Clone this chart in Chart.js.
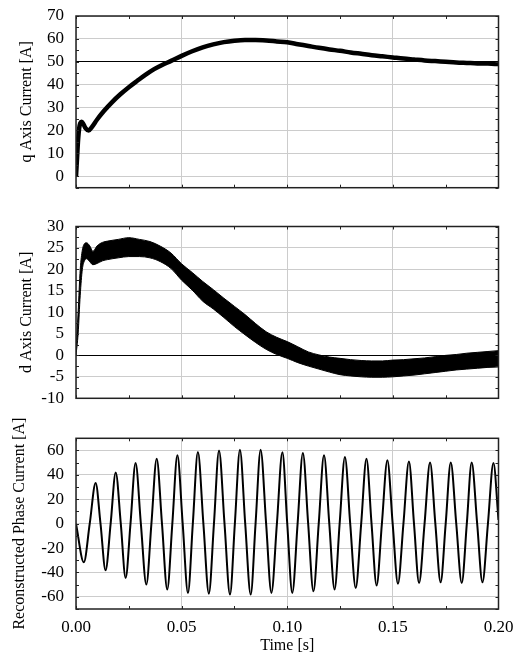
<!DOCTYPE html>
<html>
<head>
<meta charset="utf-8">
<script src="https://cdn.jsdelivr.net/npm/chart.js@4.4.1/dist/chart.umd.min.js"></script>
<style>
  body { margin: 0; background: #fff; }
  #wrap { position: relative; width: 522px; height: 655px; }
  canvas { position: absolute; left: 0; }
</style>
</head>
<body>
<div id="wrap">
  <canvas id="qChart" width="522" height="200" style="top:0px"></canvas>
  <canvas id="dChart" width="522" height="210" style="top:200px"></canvas>
  <canvas id="phaseChart" width="522" height="245" style="top:410px"></canvas>
</div>
<script>
// ---- data ----
const time_ticks = [0, 0.05, 0.10, 0.15, 0.20];

// q axis current [A]
const q_ticks = [0, 10, 20, 30, 40, 50, 60, 70];
const q_time = [0, 0.0005, 0.001, 0.0015, 0.002, 0.0027, 0.0035, 0.0045, 0.006, 0.0075, 0.01, 0.0132,
  0.017, 0.021, 0.025, 0.029, 0.033, 0.037, 0.041, 0.045, 0.05, 0.055, 0.06, 0.065, 0.07, 0.075,
  0.08, 0.085, 0.09, 0.095, 0.1, 0.105, 0.11, 0.115, 0.12, 0.125, 0.13, 0.135, 0.14, 0.145, 0.15,
  0.155, 0.16, 0.165, 0.17, 0.175, 0.18, 0.185, 0.19, 0.195, 0.2];
const q_current = [0, 8, 16, 21, 23.2, 23.8, 22.8, 21, 20, 21.5, 24.8, 28.5,
  32.3, 35.8, 38.9, 41.7, 44.4, 46.8, 48.7, 50.4, 52.6, 54.6, 56.3, 57.6, 58.6, 59.2,
  59.5, 59.5, 59.3, 58.9, 58.5, 57.7, 56.9, 56.1, 55.4, 54.8, 54.1, 53.5, 52.9, 52.4, 51.9,
  51.4, 51.0, 50.6, 50.3, 50.0, 49.7, 49.5, 49.3, 49.2, 49.0];

// d axis current [A], ripple band (upper / lower edge)
const d_ticks = [-10, -5, 0, 5, 10, 15, 20, 25, 30];
const d_time = [0, 0.001, 0.002, 0.003, 0.004, 0.005, 0.0065, 0.008, 0.01, 0.0125, 0.015, 0.02, 0.025,
  0.03, 0.035, 0.04, 0.045, 0.05, 0.055, 0.06, 0.065, 0.07, 0.075, 0.08, 0.085, 0.09, 0.095, 0.1,
  0.105, 0.11, 0.115, 0.12, 0.125, 0.13, 0.135, 0.14, 0.145, 0.15, 0.155, 0.16, 0.165, 0.17, 0.175,
  0.18, 0.185, 0.19, 0.195, 0.2];
const d_upper = [1, 10, 20, 24.5, 26, 26.2, 25.5, 24.2, 25.5, 26.3, 26.6, 27, 27.4,
  27, 26.5, 25.4, 23.8, 21.3, 19.3, 17.2, 15.3, 13.3, 11.4, 9.5, 7.4, 5.5, 4.2, 3.2,
  2, 0.8, 0.1, -0.4, -0.7, -1, -1.2, -1.3, -1.3, -1.1, -1, -0.8, -0.6, -0.3, 0,
  0.2, 0.5, 0.7, 0.9, 1.1];
const d_lower = [0, 5, 14, 20, 22, 22.5, 21.8, 21.1, 21.4, 22, 22.3, 22.7, 23,
  23, 22.7, 21.8, 20.2, 17.5, 15.2, 12.6, 10.8, 8.8, 6.7, 4.8, 3, 1.4, 0.2, -0.7,
  -1.7, -2.5, -3.2, -3.9, -4.5, -4.8, -5, -5.1, -5.1, -5, -4.8, -4.6, -4.3, -4, -3.7,
  -3.4, -3.2, -3, -2.8, -2.7];

// reconstructed phase current [A]: peaks, troughs and zero crossings
const phase_ticks = [-60, -40, -20, 0, 20, 40, 60];
const phase_time = [0, 0.0037, 0.0065, 0.0093, 0.0116, 0.014, 0.0164, 0.0188, 0.0212, 0.0235, 0.0258,
  0.0282, 0.0307, 0.0333, 0.0357, 0.0382, 0.0407, 0.0432, 0.0456, 0.048, 0.0505, 0.053, 0.0553,
  0.0577, 0.0603, 0.0629, 0.0653, 0.0677, 0.0703, 0.0729, 0.0752, 0.0776, 0.0801, 0.0827, 0.085,
  0.0874, 0.09, 0.0925, 0.0951, 0.0977, 0.1, 0.1024, 0.1049, 0.1074, 0.1099, 0.1124, 0.1149,
  0.1174, 0.1199, 0.1224, 0.1248, 0.1273, 0.1298, 0.1324, 0.135, 0.1375, 0.1399, 0.1423, 0.1448,
  0.1474, 0.1499, 0.1524, 0.155, 0.1576, 0.16, 0.1624, 0.165, 0.1676, 0.1701, 0.1726, 0.175,
  0.1774, 0.18, 0.1826, 0.185, 0.1873, 0.1899, 0.1924, 0.195, 0.1976, 0.2];
const phase_current = [0, -31.7, 0, 33.4, 0, -38.3, 0, 42, 0, -44.5, 0,
  49.7, 0, -50, 0, 53.3, 0, -54, 0, 56, 0, -56.8, 0,
  58.7, 0, -57.4, 0, 60, 0, -58.2, 0, 60.6, 0, -58.2, 0,
  60.6, 0, -56.8, 0, 58.5, 0, -56.8, 0, 58, 0, -55.5, 0,
  56, 0, -54, 0, 54.6, 0, -52.7, 0, 53.3, 0, -50.8, 0,
  51.9, 0, -49.2, 0, 51, 0, -48.6, 0, 50.2, 0, -48.1, 0,
  50.2, 0, -48.6, 0, 50.2, 0, -48.1, 0, 49.7, 3];

const FONT = "'Liberation Serif', 'Times New Roman', serif";

function toPoints(xs, ys) {
  return xs.map((x, i) => ({ x: x, y: ys[i] }));
}

// box round the plot area + small inward ticks
const framePlugin = {
  id: "frame",
  afterDraw(chart, args, opts) {
    const ctx = chart.ctx;
    const a = chart.chartArea;
    const xs = chart.scales.x, ys = chart.scales.y;
    ctx.save();
    ctx.strokeStyle = "#222";
    ctx.lineWidth = 1;
    ctx.beginPath();
    for (let v = ys.min; v <= ys.max + 1e-9; v += opts.minorY) {
      const py = Math.round(ys.getPixelForValue(v)) + 0.5;
      ctx.moveTo(a.left, py); ctx.lineTo(a.left + 3, py);
      ctx.moveTo(a.right, py); ctx.lineTo(a.right - 3, py);
    }
    for (let v = xs.min; v <= xs.max + 1e-9; v += 0.025) {
      const px = Math.round(xs.getPixelForValue(v)) + 0.5;
      ctx.moveTo(px, a.top); ctx.lineTo(px, a.top + 3);
      ctx.moveTo(px, a.bottom); ctx.lineTo(px, a.bottom - 3);
    }
    ctx.stroke();
    ctx.lineWidth = 1.5;
    ctx.strokeRect(a.left, a.top, a.right - a.left, a.bottom - a.top);
    ctx.restore();
  }
};

function makeChart(id, cfg) {
  const ctx = document.getElementById(id).getContext("2d");
  return new Chart(ctx, {
    type: "line",
    data: { datasets: cfg.datasets },
    plugins: [framePlugin],
    options: {
      responsive: false,
      animation: false,
      layout: { padding: cfg.padding },
      plugins: {
        legend: { display: false },
        tooltip: { enabled: false },
        frame: { minorY: cfg.minorY }
      },
      elements: { point: { radius: 0 } },
      scales: {
        x: {
          type: "linear",
          min: 0,
          max: 0.2,
          afterBuildTicks: (s) => { s.ticks = time_ticks.map(v => ({ value: v })); },
          afterFit: (s) => { s.height = cfg.showX ? 46 : 0; },
          border: { display: false },
          grid: { color: "#cccccc", lineWidth: 1, drawTicks: false },
          ticks: {
            display: cfg.showX,
            autoSkip: false,
            maxRotation: 0,
            color: "#000",
            padding: 8,
            font: { family: FONT, size: 17 },
            callback: (v) => Number(v).toFixed(2)
          },
          title: {
            display: cfg.showX,
            text: "Time [s]",
            color: "#000",
            padding: 0,
            font: { family: FONT, size: 16 }
          }
        },
        y: {
          type: "linear",
          min: cfg.yMin,
          max: cfg.yMax,
          afterBuildTicks: (s) => { s.ticks = cfg.yTicks.map(v => ({ value: v })); },
          afterFit: (s) => { s.width = 76; },
          border: { display: false },
          grid: {
            drawTicks: true,
            tickLength: 12,
            tickColor: "rgba(0,0,0,0)",
            lineWidth: 1,
            color: (c) => (c.tick && c.tick.value === cfg.refLine ? "#000" : "#cccccc")
          },
          ticks: {
            autoSkip: false,
            color: "#000",
            padding: 0,
            font: { family: FONT, size: 17 }
          },
          title: {
            display: true,
            text: cfg.yTitle,
            color: "#000",
            padding: { top: cfg.titlePad, bottom: 0 },
            font: { family: FONT, size: 16 }
          }
        }
      }
    }
  });
}

makeChart("qChart", {
  datasets: [{
    data: toPoints(q_time, q_current),
    borderColor: "#000",
    borderWidth: 4.5,
    cubicInterpolationMode: "monotone",
    fill: false
  }],
  yMin: -5, yMax: 70, yTicks: q_ticks, minorY: 5, refLine: 50,
  yTitle: "q Axis Current [A]", titlePad: 17, showX: false,
  padding: { top: 16, bottom: 12.3, left: 0, right: 23.5 }
});

makeChart("dChart", {
  datasets: [{
    data: toPoints(d_time, d_upper),
    borderColor: "#000",
    borderWidth: 1,
    cubicInterpolationMode: "monotone",
    fill: false
  }, {
    data: toPoints(d_time, d_lower),
    borderColor: "#000",
    borderWidth: 1,
    backgroundColor: "#000",
    cubicInterpolationMode: "monotone",
    fill: "-1"
  }],
  yMin: -10, yMax: 30, yTicks: d_ticks, minorY: 2.5, refLine: 0,
  yTitle: "d Axis Current [A]", titlePad: 17, showX: false,
  padding: { top: 26.5, bottom: 11.7, left: 0, right: 23.5 }
});

makeChart("phaseChart", {
  datasets: [{
    data: toPoints(phase_time, phase_current),
    borderColor: "#000",
    borderWidth: 2,
    cubicInterpolationMode: "monotone",
    fill: false
  }],
  yMin: -70, yMax: 70, yTicks: phase_ticks, minorY: 10, refLine: null,
  yTitle: "Reconstructed Phase Current [A]", titlePad: 10, showX: true,
  padding: { top: 28.3, bottom: 0, left: 0, right: 23.5 }
});
</script>
</body>
</html>
